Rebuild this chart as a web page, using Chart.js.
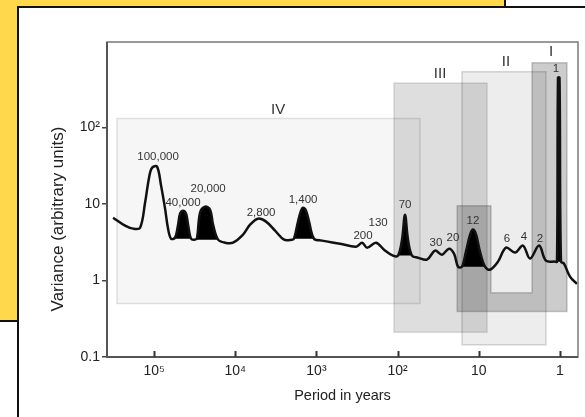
<!DOCTYPE html>
<html>
<head>
<meta charset="utf-8">
<script src="https://cdn.jsdelivr.net/npm/chart.js@4/dist/chart.umd.min.js"></script>
<style>
  html, body { margin: 0; padding: 0; }
  body { width: 585px; height: 417px; position: relative; overflow: hidden; background: #fff; }
  #yellow { position: absolute; left: -10px; top: -10px; width: 516px; height: 332px; background: #ffd84c; border: 2px solid #111; box-sizing: border-box; }
  #panel { position: absolute; left: 17px; top: 6px; width: 620px; height: 460px; background: #fff; border: 2px solid #111; box-sizing: border-box; }
  #chart { position: absolute; left: 0; top: 0; }
</style>
</head>
<body>
<div id="yellow"></div>
<div id="panel"></div>
<canvas id="chart" width="585" height="417"></canvas>
<script>
'use strict';

// spectrum, left to right: period (years) and variance
const period = [320000, 227500, 181500, 148600, 129000, 115300, 105900, 91900, 82000, 73200, 67300, 61800,
    55100, 50600, 47850, 43950, 40360, 38120, 35000,
    31260, 29530, 27100, 23550, 20420, 18760, 16290, 13360, 10650,
    8020, 6575, 5240, 4175, 3235, 2505, 1995,
    1888, 1686, 1549, 1462, 1343, 1233, 1071, 853, 512, 325,
    274, 238, 184.5, 147, 114,
    98.9, 88.3, 81.1, 74.5, 66.5, 56.1, 43.5,
    34.6, 28.4, 23.3, 20.2, 18.0,
    16.1, 14.4, 12.8, 11.8, 10.8, 9.67, 8.39, 7.28, 5.80,
    4.62, 3.58, 2.86, 2.34, 1.81, 1.49, 1.15,
    1.089, 1.058, 1.014, 0.972, 0.893, 0.753, 0.618];
const variance = [6.6, 5.19, 4.75, 4.89, 10.4, 22.0, 29.7, 30.6, 17.3, 8.66, 4.75, 3.51,
    3.62, 5.35, 7.45, 8.15, 7.45, 5.35, 3.51,
    3.41, 3.62, 7.68, 9.19, 8.4, 5.35, 3.41, 3.11, 3.11,
    3.96, 5.35, 6.41, 5.86, 4.47, 3.41, 3.41,
    3.51, 5.86, 8.15, 8.92, 8.15, 5.86, 3.51, 3.31, 3.02, 2.76,
    3.11, 2.68, 3.11, 2.52, 2.11,
    2.11, 3.41, 7.23, 3.41, 2.11, 1.98, 1.87,
    2.45, 2.17, 2.6, 2.24, 1.51,
    1.51, 2.38, 3.96, 4.61, 3.96, 2.38, 1.51, 1.38, 1.76,
    2.68, 2.31, 2.85, 1.93, 2.85, 1.81, 1.76,
    1.76, 444, 444, 1.76, 1.66, 1.12, 0.9];

// black filled peaks (first and last index into the spectrum)
const filledPeaks = [[11, 18], [19, 25], [35, 41], [50, 54], [62, 68], [78, 81]];

// peak labels
const peakText = ['100,000', '40,000', '20,000', '2,800', '1,400', '200', '130', '70', '30', '20', '12', '6', '4', '2', '1'];
const peakPeriod = [89300, 43950, 21600, 4810, 1462, 267, 174, 81, 33.7, 20.8, 11.8, 4.49, 2.78, 1.76, 1.12];
const peakVariance = [41.3, 10.4, 15.8, 7.68, 11.3, 3.84, 5.68, 9.77, 3.11, 3.62, 6.04, 3.51, 3.73, 3.51, 582];

// shaded bands I-IV as corner lists [period, variance]
const regionNames = ['IV', 'III', 'II', 'I'];
const regionCorners = [
    [[286000, 0.5], [53, 0.5], [53, 130], [286000, 130]],
    [[111, 0.21], [7.9, 0.21], [7.9, 380], [111, 380]],
    [[16.1, 0.145], [1.49, 0.145], [1.49, 530], [16.1, 530]],
    [[18.5, 9.47], [7.08, 9.47], [7.08, 0.693], [2.21, 0.693], [2.21, 697], [0.82, 697], [0.82, 0.392], [18.5, 0.392]]
];
const regionLabelPeriod = [2970, 30, 4.62, 1.29];
const regionLabelVariance = [170, 500, 718, 970];

const xTickValues = [1e5, 1e4, 1e3, 1e2, 10, 1];
const xTickLabels = ['10\u2075', '10\u2074', '10\u00b3', '10\u00b2', '10', '1'];
const yTickValues = [0.1, 1, 10, 100];
const yTickLabels = ['0.1', '1', '10', '10\u00b2'];
const yTitle = 'Variance (arbitrary units)';

const regionFill = ['rgba(0,0,0,0.035)', 'rgba(0,0,0,0.13)', 'rgba(0,0,0,0.07)', 'rgba(0,0,0,0.2)'];
const regionStroke = ['rgba(0,0,0,0.12)', 'rgba(0,0,0,0.12)', 'rgba(0,0,0,0.16)', 'rgba(0,0,0,0.2)'];
const fontFamily = "'Liberation Sans', Arial, sans-serif";

const points = period.map((p, i) => ({ x: p, y: variance[i] }));

const datasets = [{
    data: points,
    borderColor: '#111',
    borderWidth: 2.5,
    tension: 0.35,
    pointRadius: 0,
    fill: false
}];
filledPeaks.forEach(([a, b]) => {
    datasets.push({
        data: points.slice(a, b + 1),
        borderWidth: 0,
        borderColor: 'rgba(0,0,0,0)',
        backgroundColor: '#000',
        tension: 0.35,
        pointRadius: 0,
        fill: { value: Math.min(variance[a], variance[b]) }
    });
});

const decor = {
    id: 'decor',
    beforeDatasetsDraw(chart) {
        const { ctx, chartArea: a, scales: { x, y } } = chart;
        ctx.save();
        ctx.beginPath();
        ctx.rect(a.left, a.top, a.right - a.left, a.bottom - a.top);
        ctx.clip();
        regionCorners.forEach((pts, i) => {
            ctx.beginPath();
            pts.forEach(([p, v], j) => {
                const px = x.getPixelForValue(p);
                const py = y.getPixelForValue(v);
                if (j) ctx.lineTo(px, py); else ctx.moveTo(px, py);
            });
            ctx.closePath();
            ctx.fillStyle = regionFill[i];
            ctx.fill();
            ctx.strokeStyle = regionStroke[i];
            ctx.lineWidth = 1.5;
            ctx.stroke();
        });
        ctx.restore();
    },
    afterDatasetsDraw(chart) {
        const { ctx, scales: { x, y } } = chart;
        ctx.save();
        ctx.textAlign = 'center';
        ctx.textBaseline = 'middle';
        ctx.fillStyle = '#333';
        ctx.font = '11.5px ' + fontFamily;
        peakText.forEach((t, i) => {
            ctx.fillText(t, x.getPixelForValue(peakPeriod[i]), y.getPixelForValue(peakVariance[i]));
        });
        ctx.font = '15px ' + fontFamily;
        regionNames.forEach((t, i) => {
            ctx.fillText(t, x.getPixelForValue(regionLabelPeriod[i]), y.getPixelForValue(regionLabelVariance[i]));
        });
        ctx.restore();
    },
    afterDraw(chart) {
        const { ctx, chartArea: a, scales: { x } } = chart;
        ctx.save();
        ctx.strokeStyle = '#7a7a7a';
        ctx.lineWidth = 1.5;
        ctx.strokeRect(a.left, a.top, a.right - a.left, a.bottom - a.top);
        ctx.strokeStyle = '#555';
        ctx.lineWidth = 2;
        ctx.beginPath();
        ctx.moveTo(a.left, a.top);
        ctx.lineTo(a.left, a.bottom);
        ctx.lineTo(a.right, a.bottom);
        ctx.stroke();
        // x ticks point inward
        ctx.strokeStyle = '#333';
        xTickValues.forEach(v => {
            const px = Math.round(x.getPixelForValue(v)) + 0.5;
            ctx.beginPath();
            ctx.moveTo(px, a.bottom - 6);
            ctx.lineTo(px, a.bottom);
            ctx.stroke();
        });
        // y axis title, sits a little below the middle of the axis
        ctx.translate(58, 219);
        ctx.rotate(-Math.PI / 2);
        ctx.textAlign = 'center';
        ctx.textBaseline = 'middle';
        ctx.fillStyle = '#222';
        ctx.font = '17px ' + fontFamily;
        ctx.fillText(yTitle, 0, 0);
        ctx.restore();
    }
};

new Chart(document.getElementById('chart'), {
    type: 'line',
    data: { datasets: datasets },
    options: {
        responsive: false,
        animation: false,
        layout: { padding: { left: 0, top: 42, right: 7, bottom: 0 } },
        plugins: { legend: { display: false }, tooltip: { enabled: false } },
        scales: {
            x: {
                type: 'logarithmic',
                reverse: true,
                min: 0.6,
                max: 380000,
                afterBuildTicks: (scale) => { scale.ticks = xTickValues.map(v => ({ value: v })); },
                afterFit: (scale) => { scale.height = 60; },
                grid: { drawOnChartArea: false, drawTicks: false },
                border: { display: false },
                ticks: {
                    callback: (v, i) => xTickLabels[i],
                    autoSkip: false,
                    maxRotation: 0,
                    padding: 6,
                    color: '#222',
                    font: { family: fontFamily, size: 14 }
                },
                title: {
                    display: true,
                    text: 'Period in years',
                    color: '#222',
                    padding: { top: 0, bottom: 12 },
                    font: { family: fontFamily, size: 14.5 }
                }
            },
            y: {
                type: 'logarithmic',
                min: 0.1,
                max: 1300,
                afterBuildTicks: (scale) => { scale.ticks = yTickValues.map(v => ({ value: v })); },
                afterFit: (scale) => { scale.width = 107; },
                grid: { drawOnChartArea: false, tickLength: 5, color: '#444', lineWidth: 1.5 },
                border: { display: false },
                ticks: {
                    callback: (v, i) => yTickLabels[i],
                    autoSkip: false,
                    padding: 2,
                    color: '#222',
                    font: { family: fontFamily, size: 14 }
                }
            }
        }
    },
    plugins: [decor]
});
</script>
</body>
</html>
